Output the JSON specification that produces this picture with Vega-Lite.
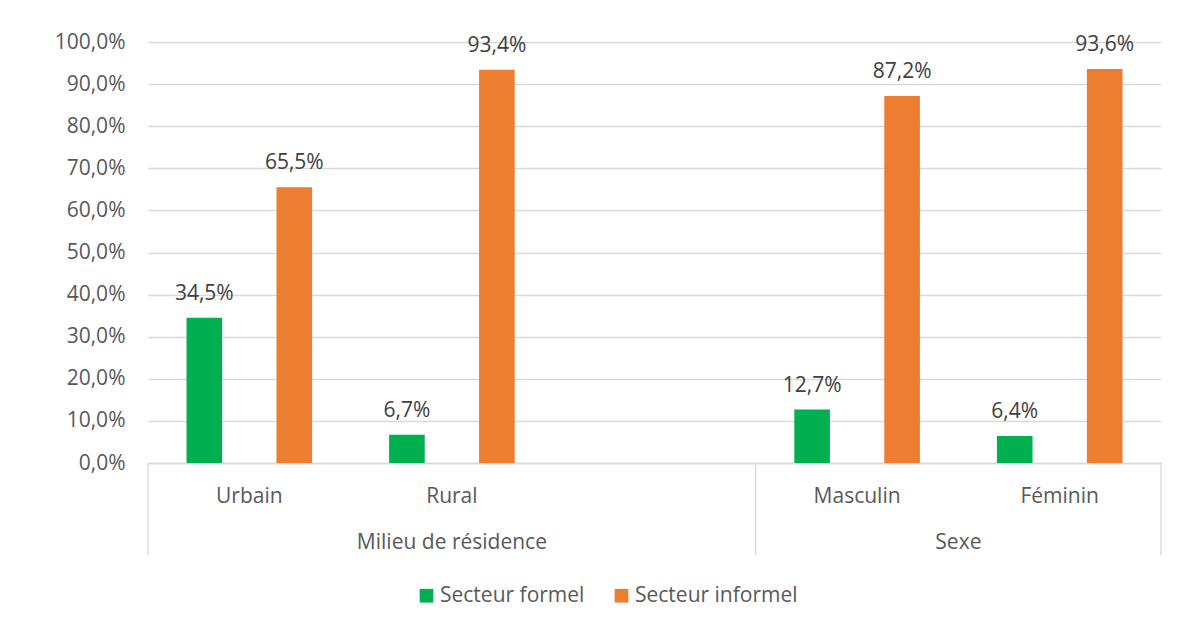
{
  "$schema": "https://vega.github.io/schema/vega-lite/v6.json",
  "width": 1013,
  "height": 421,
  "autosize": {"type": "none"},
  "padding": {"left": 148, "top": 42, "right": 31, "bottom": 165},
  "background": "white",
  "data": {
    "values": [
      {"cat": "Urbain", "serie": "Secteur formel", "v": 0.345},
      {"cat": "Urbain", "serie": "Secteur informel", "v": 0.655},
      {"cat": "Rural", "serie": "Secteur formel", "v": 0.067},
      {"cat": "Rural", "serie": "Secteur informel", "v": 0.934},
      {"cat": "Masculin", "serie": "Secteur formel", "v": 0.127},
      {"cat": "Masculin", "serie": "Secteur informel", "v": 0.872},
      {"cat": "Féminin", "serie": "Secteur formel", "v": 0.064},
      {"cat": "Féminin", "serie": "Secteur informel", "v": 0.936}
    ]
  },
  "layer": [
    {
      "mark": {"type": "bar"},
      "encoding": {
        "x": {
          "field": "cat", "type": "nominal", "title": null, "sort": null,
          "scale": {"domain": ["Urbain", "Rural", " ", "Masculin", "Féminin"], "paddingInner": 0, "paddingOuter": 0},
          "axis": {"labelAngle": 0, "ticks": false, "tickSize": 0, "labelPadding": 39, "labelBaseline": "alphabetic", "domainColor": "#D9D9D9", "domainWidth": 1.3, "labelFontSize": 21, "labelColor": "#595959", "labelFont": "Open Sans", "grid": false}
        },
        "xOffset": {
          "field": "serie", "type": "nominal",
          "scale": {"domain": ["Secteur formel", "Secteur informel"], "paddingInner": 0.604, "paddingOuter": 0.428}
        },
        "y": {
          "field": "v", "type": "quantitative", "title": null,
          "scale": {"domain": [0, 1], "nice": false, "zero": true},
          "axis": {"values": [0, 0.1, 0.2, 0.3, 0.4, 0.5, 0.6, 0.7, 0.8, 0.9, 1], "labelExpr": "replace(format(datum.value, '.1%'), '.', ',')", "domain": false, "ticks": false, "tickSize": 0, "labelPadding": 23, "gridColor": "#D9D9D9", "gridWidth": 1.3, "labelFontSize": 21, "labelColor": "#595959", "labelFont": "Open Sans"}
        },
        "color": {
          "field": "serie", "type": "nominal",
          "scale": {"domain": ["Secteur formel", "Secteur informel"], "range": ["#00B050", "#ED7D31"]},
          "legend": {"title": null, "orient": "none", "direction": "horizontal", "legendX": 268, "legendY": 543, "padding": 0, "symbolType": "square", "symbolSize": 188, "symbolStrokeWidth": 0, "labelFontSize": 21, "labelColor": "#595959", "labelFont": "Open Sans", "labelOffset": 3, "labelLimit": 0, "columnPadding": 26}
        }
      }
    },
    {
      "transform": [{"calculate": "replace(format(datum.v, '.1%'), '.', ',')", "as": "lab"}],
      "mark": {"type": "text", "baseline": "alphabetic", "dy": -18, "fontSize": 21, "font": "Open Sans", "color": "#404040"},
      "encoding": {
        "x": {"field": "cat", "type": "nominal", "title": null, "scale": {"domain": ["Urbain", "Rural", " ", "Masculin", "Féminin"], "paddingInner": 0, "paddingOuter": 0}},
        "xOffset": {"field": "serie", "type": "nominal", "scale": {"domain": ["Secteur formel", "Secteur informel"], "paddingInner": 0.604, "paddingOuter": 0.428}},
        "y": {"field": "v", "type": "quantitative", "title": null, "scale": {"domain": [0, 1], "nice": false}},
        "text": {"field": "lab", "type": "nominal"}
      }
    },
    {
      "data": {"values": [{"k": "a"}]},
      "mark": {"type": "rule", "color": "#D9D9D9", "strokeWidth": 1.3},
      "encoding": {
        "x": {"datum": "Urbain", "bandPosition": 0, "title": null, "scale": {"domain": ["Urbain", "Rural", " ", "Masculin", "Féminin"], "paddingInner": 0, "paddingOuter": 0}},
        "y": {"datum": 0, "title": null, "scale": {"domain": [0, 1], "nice": false}},
        "y2": {"datum": -0.22}
      }
    },
    {
      "data": {"values": [{"k": "b"}]},
      "mark": {"type": "rule", "color": "#D9D9D9", "strokeWidth": 1.3},
      "encoding": {
        "x": {"datum": "Masculin", "bandPosition": 0, "title": null, "scale": {"domain": ["Urbain", "Rural", " ", "Masculin", "Féminin"], "paddingInner": 0, "paddingOuter": 0}},
        "y": {"datum": 0, "title": null, "scale": {"domain": [0, 1], "nice": false}},
        "y2": {"datum": -0.22}
      }
    },
    {
      "data": {"values": [{"k": "c"}]},
      "mark": {"type": "rule", "color": "#D9D9D9", "strokeWidth": 1.3},
      "encoding": {
        "x": {"datum": "Féminin", "bandPosition": 1, "title": null, "scale": {"domain": ["Urbain", "Rural", " ", "Masculin", "Féminin"], "paddingInner": 0, "paddingOuter": 0}},
        "y": {"datum": 0, "title": null, "scale": {"domain": [0, 1], "nice": false}},
        "y2": {"datum": -0.22}
      }
    },
    {
      "data": {"values": [{"g": "Milieu de résidence"}]},
      "mark": {"type": "text", "baseline": "alphabetic", "fontSize": 21, "font": "Open Sans", "color": "#595959"},
      "encoding": {
        "x": {"datum": "Rural", "bandPosition": 0.5, "title": null, "scale": {"domain": ["Urbain", "Rural", " ", "Masculin", "Féminin"], "paddingInner": 0, "paddingOuter": 0}},
        "y": {"datum": -0.204, "title": null, "scale": {"domain": [0, 1], "nice": false}},
        "text": {"field": "g", "type": "nominal"}
      }
    },
    {
      "data": {"values": [{"g": "Sexe"}]},
      "mark": {"type": "text", "baseline": "alphabetic", "fontSize": 21, "font": "Open Sans", "color": "#595959"},
      "encoding": {
        "x": {"datum": "Féminin", "bandPosition": 0, "title": null, "scale": {"domain": ["Urbain", "Rural", " ", "Masculin", "Féminin"], "paddingInner": 0, "paddingOuter": 0}},
        "y": {"datum": -0.204, "title": null, "scale": {"domain": [0, 1], "nice": false}},
        "text": {"field": "g", "type": "nominal"}
      }
    }
  ],
  "config": {
    "font": "Open Sans",
    "view": {"stroke": null}
  }
}
